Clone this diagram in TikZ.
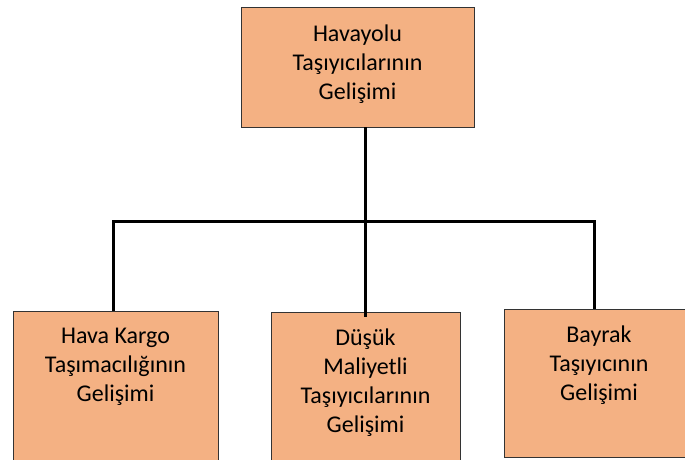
\documentclass[tikz,border=0pt]{standalone}
\usepackage{fontspec}
\setmainfont{Carlito}
\definecolor{boxfill}{HTML}{F4B183}
\definecolor{boxline}{HTML}{333333}
\begin{document}
\begin{tikzpicture}[x=1pt,y=-1pt,
  box/.style={draw=boxline,line width=0.9pt,fill=boxfill,rectangle,inner sep=0pt},
  lbl/.style={anchor=north,align=center,inner sep=0pt,font=\fontsize{24}{29}\selectfont,text depth=0pt},
  conn/.style={line width=3pt,line join=miter,black}]
\useasboundingbox (0,0) rectangle (685,459);
% boxes
\node[box,minimum width=233pt,minimum height=120pt] (top) at (357.5,67) {};
\node[box,minimum width=205pt,minimum height=160pt] (left) at (115.5,391) {};
\node[box,minimum width=189pt,minimum height=160pt] (mid) at (365.5,392) {};
\node[box,minimum width=190pt,minimum height=148pt] (right) at (599,383) {};
% texts
\node[lbl] (ttop) at ([yshift=-18.5]top.north) {Havayolu\\Taşıyıcılarının\\Gelişimi};
\node[lbl] (tleft) at ([yshift=-17.5]left.north) {Hava Kargo\\Taşımacılığının\\Gelişimi};
\node[lbl] (tmid) at ([yshift=-17.5]mid.north) {Düşük\\Maliyetli\\Taşıyıcılarının\\Gelişimi};
\node[lbl] (tright) at ([yshift=-17.5]right.north) {Bayrak\\Taşıyıcının\\Gelişimi};
% connectors
\coordinate (bar) at (365.5,221.5);
\draw[conn] (top.south -| mid.north) -- ([yshift=-5]mid.north);
\draw[conn] ([xshift=-2.5]left.north) -- ([xshift=-2.5]left.north |- bar) -- ([xshift=-5]right.north |- bar) -- ([xshift=-5]right.north);
\end{tikzpicture}
\end{document}
